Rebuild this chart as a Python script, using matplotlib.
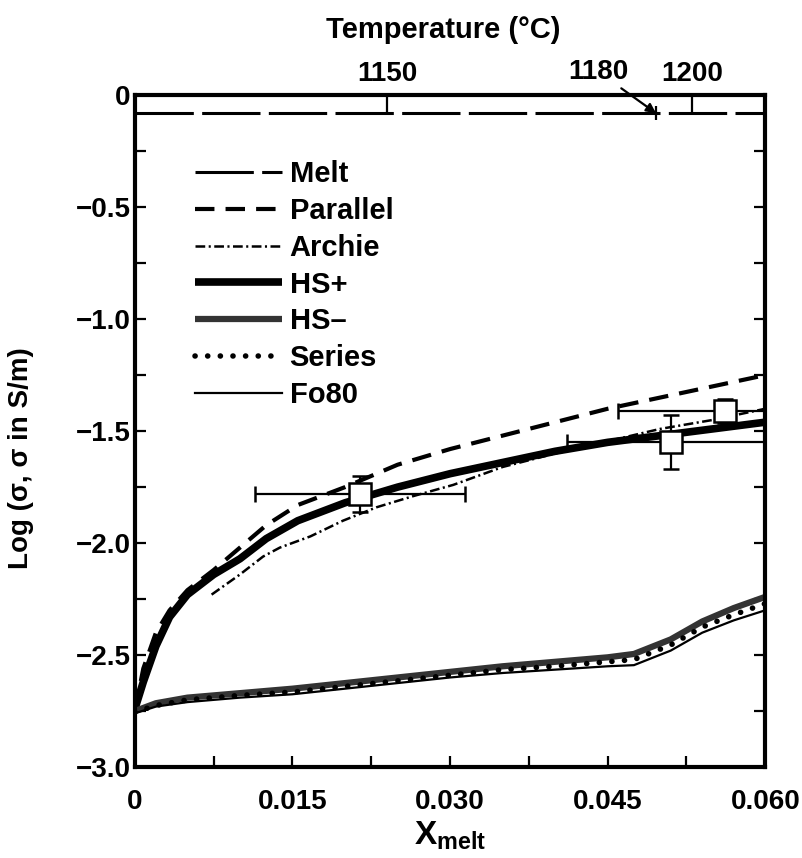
import numpy as np
import matplotlib
matplotlib.use("Agg")
import matplotlib.pyplot as plt

plt.rcParams['font.family'] = ['Liberation Sans', 'DejaVu Sans']
plt.rcParams['font.weight'] = 'bold'
plt.rcParams['axes.labelweight'] = 'bold'
plt.rcParams['mathtext.fontset'] = 'custom'
plt.rcParams['mathtext.rm'] = 'Liberation Sans:bold'
plt.rcParams['mathtext.it'] = 'Liberation Sans:bold'
plt.rcParams['mathtext.bf'] = 'Liberation Sans:bold'
plt.rcParams['lines.scale_dashes'] = False

# --- data ---
melt_x = [0.0, 0.060]
melt_y = [-0.08, -0.08]

x_hi = [0, 0.0008, 0.002, 0.0033, 0.005, 0.0075, 0.010, 0.0125, 0.0155,
        0.020, 0.025, 0.030, 0.035, 0.040, 0.045, 0.050, 0.055, 0.060]
parallel_y = [-2.75, -2.56, -2.40, -2.30, -2.21, -2.12, -2.02, -1.92, -1.83,
              -1.75, -1.65, -1.58, -1.52, -1.46, -1.40, -1.35, -1.30, -1.25]
hsplus_y = [-2.74, -2.62, -2.46, -2.33, -2.23, -2.14, -2.07, -1.98, -1.90,
            -1.82, -1.75, -1.69, -1.64, -1.59, -1.55, -1.52, -1.49, -1.46]

archie_x = [0.0073, 0.010, 0.0122, 0.0138, 0.0167, 0.0198, 0.023, 0.0265,
            0.0303, 0.035, 0.040, 0.045, 0.050, 0.055, 0.060]
archie_y = [-2.23, -2.14, -2.06, -2.02, -1.97, -1.90, -1.84, -1.79,
            -1.74, -1.66, -1.60, -1.545, -1.49, -1.45, -1.40]

x_lo = [0, 0.002, 0.005, 0.010, 0.015, 0.020, 0.025, 0.030, 0.035, 0.040,
        0.045, 0.0475, 0.051, 0.054, 0.057, 0.060]
hsminus_y = [-2.75, -2.715, -2.69, -2.67, -2.65, -2.625, -2.60, -2.575, -2.55,
             -2.53, -2.51, -2.495, -2.43, -2.35, -2.29, -2.24]
series_y = [-2.755, -2.725, -2.70, -2.68, -2.665, -2.64, -2.615, -2.59, -2.565,
            -2.55, -2.53, -2.52, -2.455, -2.375, -2.32, -2.27]
fo80_y = [-2.76, -2.73, -2.71, -2.69, -2.675, -2.65, -2.625, -2.60, -2.58,
          -2.565, -2.55, -2.545, -2.48, -2.40, -2.345, -2.30]

# measured samples (squares with error bars)
pts_x = [0.0214, 0.0510, 0.0562]
pts_y = [-1.78, -1.55, -1.41]
pts_xerr = [0.0100, 0.0099, 0.0102]
pts_yerr = [0.08, 0.12, 0.055]

# temperature scale on top
temp_pos = [0.0240, 0.0496, 0.0530]
temp_labels = ['1150', '1180', '1200']

fs = 20

fig = plt.figure(figsize=(8.03, 8.58), dpi=100)
ax = fig.add_axes([0.168, 0.106, 0.785, 0.783])

ax.plot(melt_x, melt_y, color='black', lw=2.2, dashes=(42, 6), label='Melt')
ax.plot(x_hi, parallel_y, color='black', lw=3, dashes=(14, 8), label='Parallel')
ax.plot(archie_x, archie_y, color='black', lw=1.8, dashes=(7, 2.5, 1.5, 2.5),
        label='Archie')
ax.plot(x_hi, hsplus_y, color='black', lw=5.5, solid_capstyle='butt', label='HS+')
ax.plot(x_lo, hsminus_y, color='0.2', lw=4.5, solid_capstyle='butt', label='HS\u2013')
ax.plot(x_lo, series_y, color='black', lw=4, dashes=(0.1, 9),
        dash_capstyle='round', label='Series')
ax.plot(x_lo, fo80_y, color='black', lw=1.6, label='Fo80')

ax.errorbar(pts_x, pts_y, xerr=pts_xerr, yerr=pts_yerr, fmt='s', ms=15.5,
            mfc='white', mec='black', mew=1.8, ecolor='black', elinewidth=1.6,
            capsize=6, capthick=1.6, zorder=5)

ax.set_xlim(0, 0.060)
ax.set_ylim(-3.0, 0.0)

ax.set_xticks(np.arange(0, 0.0601, 0.0075))
ax.set_xticklabels(['0', '', '0.015', '', '0.030', '', '0.045', '', '0.060'])
yt = np.arange(-3.0, 0.01, 0.25)
ax.set_yticks(yt)
ylabs = []
for v in yt:
    if abs(v * 2 - round(v * 2)) < 1e-6:
        ylabs.append('0' if abs(v) < 1e-9 else '\u2212%.1f' % abs(v))
    else:
        ylabs.append('')
ax.set_yticklabels(ylabs)
ax.tick_params(axis='both', direction='in', length=8, width=1.6,
               labelsize=fs, right=True, top=False)
ax.tick_params(axis='x', pad=16)
ax.tick_params(axis='y', pad=3)
for s in ax.spines.values():
    s.set_linewidth(3)

ax.set_xlabel(r'$\mathbf{X_{melt}}$', fontsize=24, labelpad=3)
ax.set_ylabel('Log (\u03c3, \u03c3 in S/m)', fontsize=20, fontweight='bold')
ax.yaxis.set_label_coords(-0.16, 0.46)

# temperature axis
top = ax.twiny()
top.set_xlim(ax.get_xlim())
top.set_ylim(ax.get_ylim())
top.set_xticks([temp_pos[0], temp_pos[2]])
top.set_xticklabels([temp_labels[0], temp_labels[2]])
top.tick_params(axis='x', direction='in', length=14, width=1.6, labelsize=fs,
                pad=6)
for s in top.spines.values():
    s.set_visible(False)
top.vlines(temp_pos[1], melt_y[0] - 0.03, melt_y[0] + 0.03, color='black', lw=1.6)
top.annotate(temp_labels[1], xy=(temp_pos[1], melt_y[0]), xytext=(0.0441, 0.105),
             textcoords='data', ha='center', va='center', fontsize=fs,
             annotation_clip=False,
             arrowprops=dict(arrowstyle='-|>', color='black', lw=1.6,
                             mutation_scale=14, shrinkA=1, shrinkB=0,
                             relpos=(0.8, 0.0)))
fig.text(0.552, 0.965, 'Temperature (\u00b0C)', ha='center', va='center',
         fontsize=21, fontweight='bold')

leg = ax.legend(loc='upper left', bbox_to_anchor=(0.095, 0.903), frameon=False,
                fontsize=21, handlelength=3.0, handletextpad=0.25,
                labelspacing=0.3, borderpad=0, borderaxespad=0)

fig.savefig('out.png', dpi=100)
